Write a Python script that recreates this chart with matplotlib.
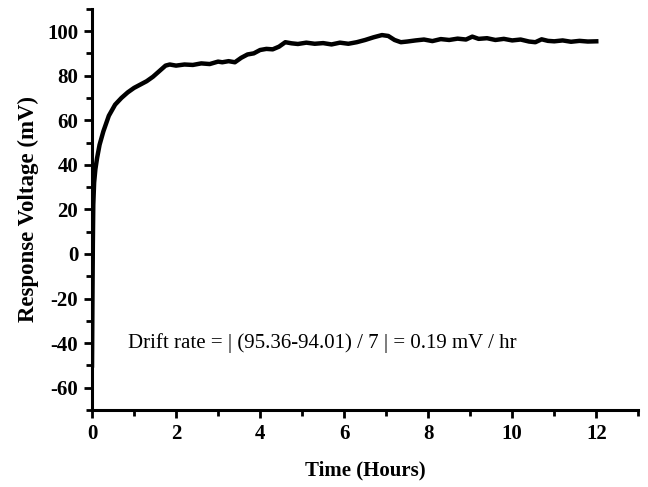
import matplotlib.pyplot as plt
from matplotlib.ticker import MultipleLocator

# time (hours) and response voltage (mV)
hours = [0, 0.01, 0.02, 0.03, 0.05, 0.08, 0.12, 0.18, 0.27, 0.4, 0.55, 0.7,
         0.85, 1.0, 1.15, 1.3, 1.45, 1.6, 1.75, 1.85, 2.0, 2.2, 2.4, 2.6,
         2.8, 3.0, 3.1, 3.25, 3.4, 3.55, 3.7, 3.85, 4.0, 4.15, 4.3, 4.45,
         4.6, 4.75, 4.9, 5.1, 5.3, 5.5, 5.7, 5.9, 6.1, 6.3, 6.5, 6.7, 6.9,
         7.05, 7.2, 7.35, 7.5, 7.7, 7.9, 8.1, 8.3, 8.5, 8.7, 8.9, 9.05, 9.2,
         9.4, 9.6, 9.8, 10.0, 10.2, 10.4, 10.55, 10.7, 10.85, 11.0, 11.2,
         11.4, 11.6, 11.8, 12.0]
voltage = [-50, -20, 5, 22, 32, 38, 43, 49, 55, 62, 67, 70,
           72.5, 74.5, 76, 77.5, 79.5, 82, 84.5, 85, 84.5, 85, 84.8, 85.5,
           85.2, 86.3, 86, 86.5, 86, 88, 89.5, 90, 91.5, 92, 91.8, 93,
           95, 94.5, 94.2, 94.8, 94.3, 94.6, 94, 94.8, 94.3, 95, 96, 97.2, 98.2,
           97.8, 96, 95, 95.3, 95.8, 96.2, 95.5, 96.4, 96, 96.6, 96.2, 97.5, 96.5,
           96.8, 96, 96.5, 95.8, 96.2, 95.3, 95, 96.3, 95.6, 95.4, 95.8,
           95.2, 95.6, 95.3, 95.4]

note = 'Drift rate = | (95.36-94.01) / 7 | = 0.19 mV / hr'

plt.rcParams['font.family'] = ['Liberation Serif', 'DejaVu Serif']
plt.rcParams['axes.unicode_minus'] = False

fig = plt.figure(figsize=(6.48, 4.87), dpi=100)
ax = fig.add_axes([0.142, 0.158, 0.843, 0.824])

ax.plot(hours, voltage, color='black', lw=3.2, solid_joinstyle='round')

ax.set_xlim(0, 13)
ax.set_ylim(-70, 110)
ax.xaxis.set_major_locator(MultipleLocator(2))
ax.xaxis.set_minor_locator(MultipleLocator(1))
ax.yaxis.set_major_locator(MultipleLocator(20))
ax.yaxis.set_minor_locator(MultipleLocator(10))

for side in ['top', 'right']:
    ax.spines[side].set_visible(False)
for side in ['left', 'bottom']:
    ax.spines[side].set_linewidth(2.2)

ax.tick_params(which='major', length=6, width=2, labelsize=15, pad=4)
ax.tick_params(which='minor', length=4, width=2)
for lbl in ax.get_xticklabels() + ax.get_yticklabels():
    lbl.set_fontweight('bold')

ax.set_xlabel('Time (Hours)', fontsize=15, fontweight='bold', labelpad=12)
ax.set_ylabel('Response Voltage (mV)', fontsize=16.5, fontweight='bold', labelpad=6)

ax.text(0.86, -40, note, fontsize=15, va='center', ha='left')

fig.savefig('out.png', dpi=100)
